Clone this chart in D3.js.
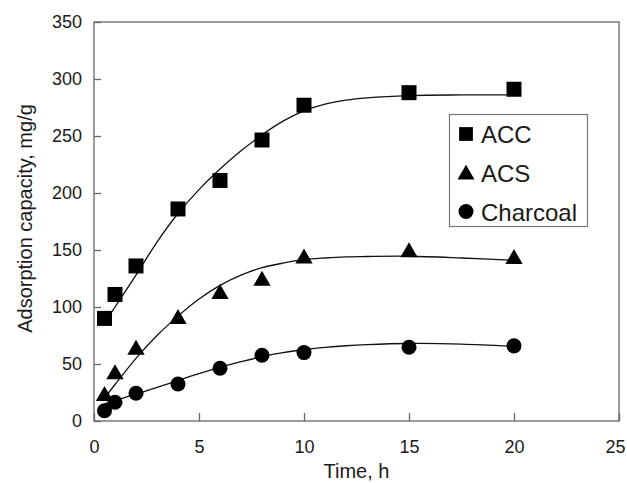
<!DOCTYPE html>
<html>
<head>
<meta charset="utf-8">
<script src="https://cdn.jsdelivr.net/npm/d3@7"></script>
<style>
  html, body { margin: 0; padding: 0; background: #fff; }
  svg { display: block; }
  text { font-family: "Liberation Sans", Arial, sans-serif; fill: #1a1a1a; }
</style>
</head>
<body>
<svg id="chart" width="627" height="483"></svg>
<script>
// Sampling times (h)
const times = [0.5, 1, 2, 4, 6, 8, 10, 15, 20];

// Measured adsorption capacity (mg/g)
const accValues = [90, 111, 136, 186, 211, 246.5, 277, 288, 291];
const acsValues = [22, 41, 62.5, 89.5, 111.5, 123, 142.5, 148, 142];
const charcoalValues = [9, 16.5, 24.3, 32.5, 46.3, 57.7, 60, 64.7, 65.9];

// Fitted curves (time, capacity)
const fitTimes = [0.5, 1, 2, 3, 4, 5, 6, 7, 8, 9, 10, 11, 12, 13, 15, 17.5, 20];
const accFit = [86, 100, 128, 157, 182, 203, 221, 237, 251, 263, 272, 278, 281.5, 283.5, 285.5, 286, 286];
const acsFit = [20, 32, 55, 75, 92, 107, 119, 128, 134.5, 138.5, 141.5, 143, 144, 144.3, 144.5, 143, 141];
const charcoalFit = [15, 18, 23.5, 29.5, 35.5, 41.5, 47, 52, 56.5, 60, 62.5, 64.5, 66, 67, 68, 67.5, 65.5];

// Axis ticks
const xTicks = [0, 5, 10, 15, 20, 25];
const yTicks = [0, 50, 100, 150, 200, 250, 300, 350];

const seriesNames = ["ACC", "ACS", "Charcoal"];
const seriesValues = [accValues, acsValues, charcoalValues];
const seriesFits = [accFit, acsFit, charcoalFit];
const seriesSymbols = [d3.symbolSquare, d3.symbolTriangle, d3.symbolCircle];
const markerSizes = [225, 130, 177];
const legendSizes = [190, 125, 177];

const svg = d3.select("#chart");
const plotLeft = 94, plotRight = 619, plotTop = 22, plotBottom = 421;

const x = d3.scaleLinear().domain([0, 25]).range([plotLeft, plotRight]);
const y = d3.scaleLinear().domain([0, 350]).range([plotBottom, plotTop]);

const frameColor = "#666";

// Axes with inward ticks
const gx = svg.append("g")
  .attr("transform", `translate(0,${plotBottom})`)
  .call(d3.axisBottom(x).tickValues(xTicks).tickSizeInner(-8).tickSizeOuter(0).tickPadding(19));
const gy = svg.append("g")
  .attr("transform", `translate(${plotLeft},0)`)
  .call(d3.axisLeft(y).tickValues(yTicks).tickSizeInner(-7).tickSizeOuter(0).tickPadding(12));

[gx, gy].forEach(g => {
  g.select(".domain").remove();
  g.selectAll(".tick line").attr("stroke", frameColor).attr("stroke-width", 1.3);
  g.selectAll(".tick text")
    .style("font-family", "'Liberation Sans', Arial, sans-serif")
    .style("font-size", "18px")
    .attr("fill", "#1a1a1a");
});
// keep the last x label inside the page edge
gx.selectAll(".tick text").filter(d => d === 25).attr("dx", "-4");

// Plot frame
svg.append("rect")
  .attr("x", plotLeft).attr("y", plotTop)
  .attr("width", plotRight - plotLeft).attr("height", plotBottom - plotTop)
  .attr("fill", "none")
  .attr("stroke", frameColor)
  .attr("stroke-width", 1.3);

// Fitted lines
const line = d3.line()
  .x(d => x(d[0]))
  .y(d => y(d[1]))
  .curve(d3.curveCatmullRom.alpha(0.5));

seriesFits.forEach(fit => {
  svg.append("path")
    .datum(fitTimes.map((t, i) => [t, fit[i]]))
    .attr("d", line)
    .attr("fill", "none")
    .attr("stroke", "#111")
    .attr("stroke-width", 1.3);
});

// Data markers
seriesValues.forEach((vals, s) => {
  const sym = d3.symbol().type(seriesSymbols[s]).size(markerSizes[s]);
  svg.append("g")
    .selectAll("path")
    .data(times.map((t, i) => [t, vals[i]]))
    .join("path")
    .attr("d", sym)
    .attr("transform", d => `translate(${x(d[0])},${y(d[1])})`)
    .attr("fill", "#000");
});

// Legend
const legend = svg.append("g");
legend.append("rect")
  .attr("x", 449.5).attr("y", 114.5)
  .attr("width", 138).attr("height", 112)
  .attr("fill", "#fff")
  .attr("stroke", "#777")
  .attr("stroke-width", 1.2);

const legendRows = [134, 173, 211.5];
seriesNames.forEach((name, s) => {
  legend.append("path")
    .attr("d", d3.symbol().type(seriesSymbols[s]).size(legendSizes[s]))
    .attr("transform", `translate(466,${legendRows[s] + (s === 1 ? 1.5 : 0)})`)
    .attr("fill", "#000");
  legend.append("text")
    .attr("x", 481)
    .attr("y", legendRows[s] + 9)
    .style("font-size", "24px")
    .text(name);
});

// Axis titles
svg.append("text")
  .attr("x", (plotLeft + plotRight) / 2)
  .attr("y", 478)
  .attr("text-anchor", "middle")
  .style("font-size", "20px")
  .text("Time, h");

svg.append("text")
  .attr("transform", `translate(32,${(plotTop + plotBottom) / 2 - 3}) rotate(-90)`)
  .attr("text-anchor", "middle")
  .style("font-size", "20px")
  .text("Adsorption capacity, mg/g");
</script>
</body>
</html>
